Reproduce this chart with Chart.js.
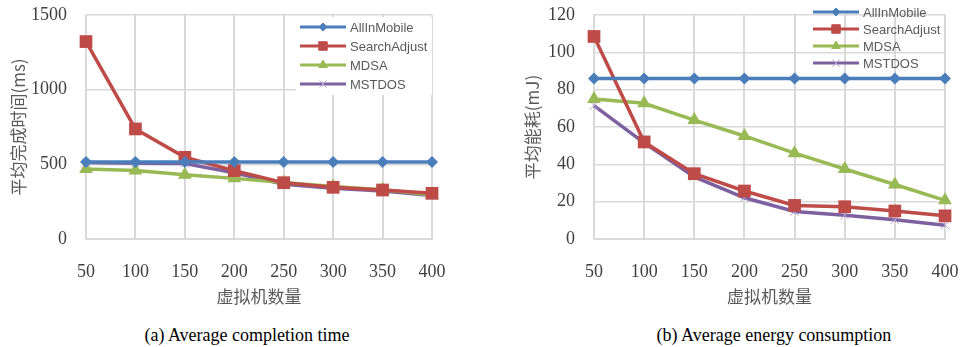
<!DOCTYPE html>
<html lang="zh">
<head>
<meta charset="UTF-8">
<title>Average completion time / energy consumption</title>
<style>
  body { margin: 0; background: #fff; width: 962px; height: 347px; overflow: hidden; position: relative; }
  .box { position: absolute; top: 0; height: 307px; }
  .cap { position: absolute; top: 325px; font-family: "Liberation Serif", "Times New Roman", serif; font-size: 18px; color: #000; text-align: center; }
</style>
</head>
<body>
  <div class="box" style="left:0;width:480px"><canvas id="timeChart" width="480" height="307"></canvas></div>
  <div class="box" style="left:480px;width:482px"><canvas id="energyChart" width="482" height="307"></canvas></div>
  <div class="cap" style="left:0;width:494px">(a) Average completion time</div>
  <div class="cap" style="left:480px;width:588px">(b) Average energy consumption</div>

<script src="https://cdn.jsdelivr.net/npm/chart.js"></script>
<script>
// data
var vmCounts = ['50', '100', '150', '200', '250', '300', '350', '400'];
var seriesNames = ['AllInMobile', 'SearchAdjust', 'MDSA', 'MSTDOS'];

var timeAllInMobile  = [515, 515, 515, 515, 515, 515, 515, 515];
var timeSearchAdjust = [1322, 737, 547, 458, 377, 346, 328, 306];
var timeMDSA         = [469, 458, 430, 406, 378, 352, 330, 297];
var timeMSTDOS       = [513, 508, 506, 444, 366, 339, 321, 292];

var energyAllInMobile  = [86, 86, 86, 86, 86, 86, 86, 86];
var energySearchAdjust = [108.5, 52, 35, 25.7, 18, 17.3, 15, 12.4];
var energyMDSA         = [75, 72.7, 63.7, 55.2, 46, 37.5, 29.2, 20.7];
var energyMSTDOS       = [71.5, 51.5, 33.3, 22.1, 14.7, 12.7, 10.3, 7.4];

var timeTicks = [0, 500, 1000, 1500];
var energyTicks = [0, 20, 40, 60, 80, 100, 120];

var colors = ['#4a7ebb', '#be4b48', '#98b954', '#7d60a0'];
var shapes = ['rectRot', 'rect', 'triangle', 'crossRot'];
var radii = [6, 9, 8, 6];
var legendRadii = [4, 6, 5, 5];

function makeSets(values) {
    return values.map(function (vals, i) {
        return {
            label: seriesNames[i],
            data: vals,
            borderColor: colors[i],
            backgroundColor: colors[i],
            borderWidth: 3.5,
            pointStyle: shapes[i],
            pointRadius: radii[i],
            pointHoverRadius: radii[i],
            pointBorderWidth: i === 3 ? 1 : 0,
            pointBorderColor: i === 3 ? '#b9a6d8' : colors[i],
            tension: 0
        };
    });
}

// legend drawn inside the plot, like the Excel original
var insideLegend = {
    id: 'insideLegend',
    afterDraw: function (chart, args, opts) {
        var ctx = chart.ctx;
        ctx.save();
        if (opts.fill) {
            ctx.fillStyle = '#fff';
            ctx.fillRect(opts.x - 4, opts.y - 10, opts.w, opts.gap * 4 + 2);
        }
        chart.data.datasets.forEach(function (ds, i) {
            var y = opts.y + i * opts.gap;
            ctx.strokeStyle = ds.borderColor;
            ctx.lineWidth = 3;
            ctx.beginPath();
            ctx.moveTo(opts.x, y);
            ctx.lineTo(opts.x + 46, y);
            ctx.stroke();
            ctx.fillStyle = ds.backgroundColor;
            ctx.strokeStyle = i === 3 ? '#b9a6d8' : ds.borderColor;
            ctx.lineWidth = 1;
            Chart.helpers.drawPoint(ctx, { pointStyle: ds.pointStyle, radius: legendRadii[i], borderWidth: 1, rotation: 0 }, opts.x + 23, y);
            ctx.fillStyle = '#595959';
            ctx.font = '13px "Liberation Sans", Arial, sans-serif';
            ctx.textBaseline = 'middle';
            ctx.fillText(ds.label, opts.x + 50, y + 1);
        });
        ctx.restore();
    }
};

function makeOptions(ticks, yTitle, yWidth, padRight, titlePad, legendOpts) {
    return {
        responsive: false,
        animation: false,
        layout: { padding: { top: 15, right: padRight, left: 0, bottom: 0 } },
        plugins: {
            legend: { display: false },
            tooltip: { enabled: false },
            insideLegend: legendOpts
        },
        scales: {
            x: {
                offset: false,
                grid: { color: '#d9d9d9', lineWidth: 2, drawTicks: false },
                border: { color: '#d9d9d9', width: 1 },
                ticks: { color: '#404040', padding: 22, maxRotation: 0, font: { family: '"Liberation Serif", serif', size: 18 } },
                title: { display: true, text: '虚拟机数量', color: '#595959', padding: { top: 0, bottom: 0 },
                         font: { family: '"Noto Sans CJK SC", sans-serif', size: 17 } },
                afterFit: function (s) { s.height = 68; s.paddingLeft = 14; s.paddingRight = 14; }
            },
            y: {
                min: 0,
                max: ticks[ticks.length - 1],
                afterBuildTicks: function (s) { s.ticks = ticks.map(function (v) { return { value: v }; }); },
                grid: { color: '#d9d9d9', lineWidth: 1.5, drawTicks: false },
                border: { color: '#d9d9d9', width: 1.5 },
                ticks: { color: '#404040', padding: 19, font: { family: '"Liberation Serif", serif', size: 18 },
                         callback: function (v) { return String(v); } },
                title: { display: true, text: yTitle, color: '#595959', padding: { top: titlePad, bottom: 0 },
                         font: { family: '"Noto Sans CJK SC", sans-serif', size: 17 } },
                afterFit: function (s) { s.width = yWidth; s.paddingTop = 9; s.paddingBottom = 9; }
            }
        }
    };
}

new Chart(document.getElementById('timeChart'), {
    type: 'line',
    data: { labels: vmCounts, datasets: makeSets([timeAllInMobile, timeSearchAdjust, timeMDSA, timeMSTDOS]) },
    options: makeOptions(timeTicks, '平均完成时间(ms)', 86, 48, 8, { x: 300, y: 27, gap: 19, w: 136, fill: true }),
    plugins: [insideLegend]
});

new Chart(document.getElementById('energyChart'), {
    type: 'line',
    data: { labels: vmCounts, datasets: makeSets([energyAllInMobile, energySearchAdjust, energyMDSA, energyMSTDOS]) },
    options: makeOptions(energyTicks, '平均能耗(mJ)', 114, 17, 42, { x: 333, y: 12, gap: 17, w: 136, fill: false }),
    plugins: [insideLegend]
});
</script>
</body>
</html>
